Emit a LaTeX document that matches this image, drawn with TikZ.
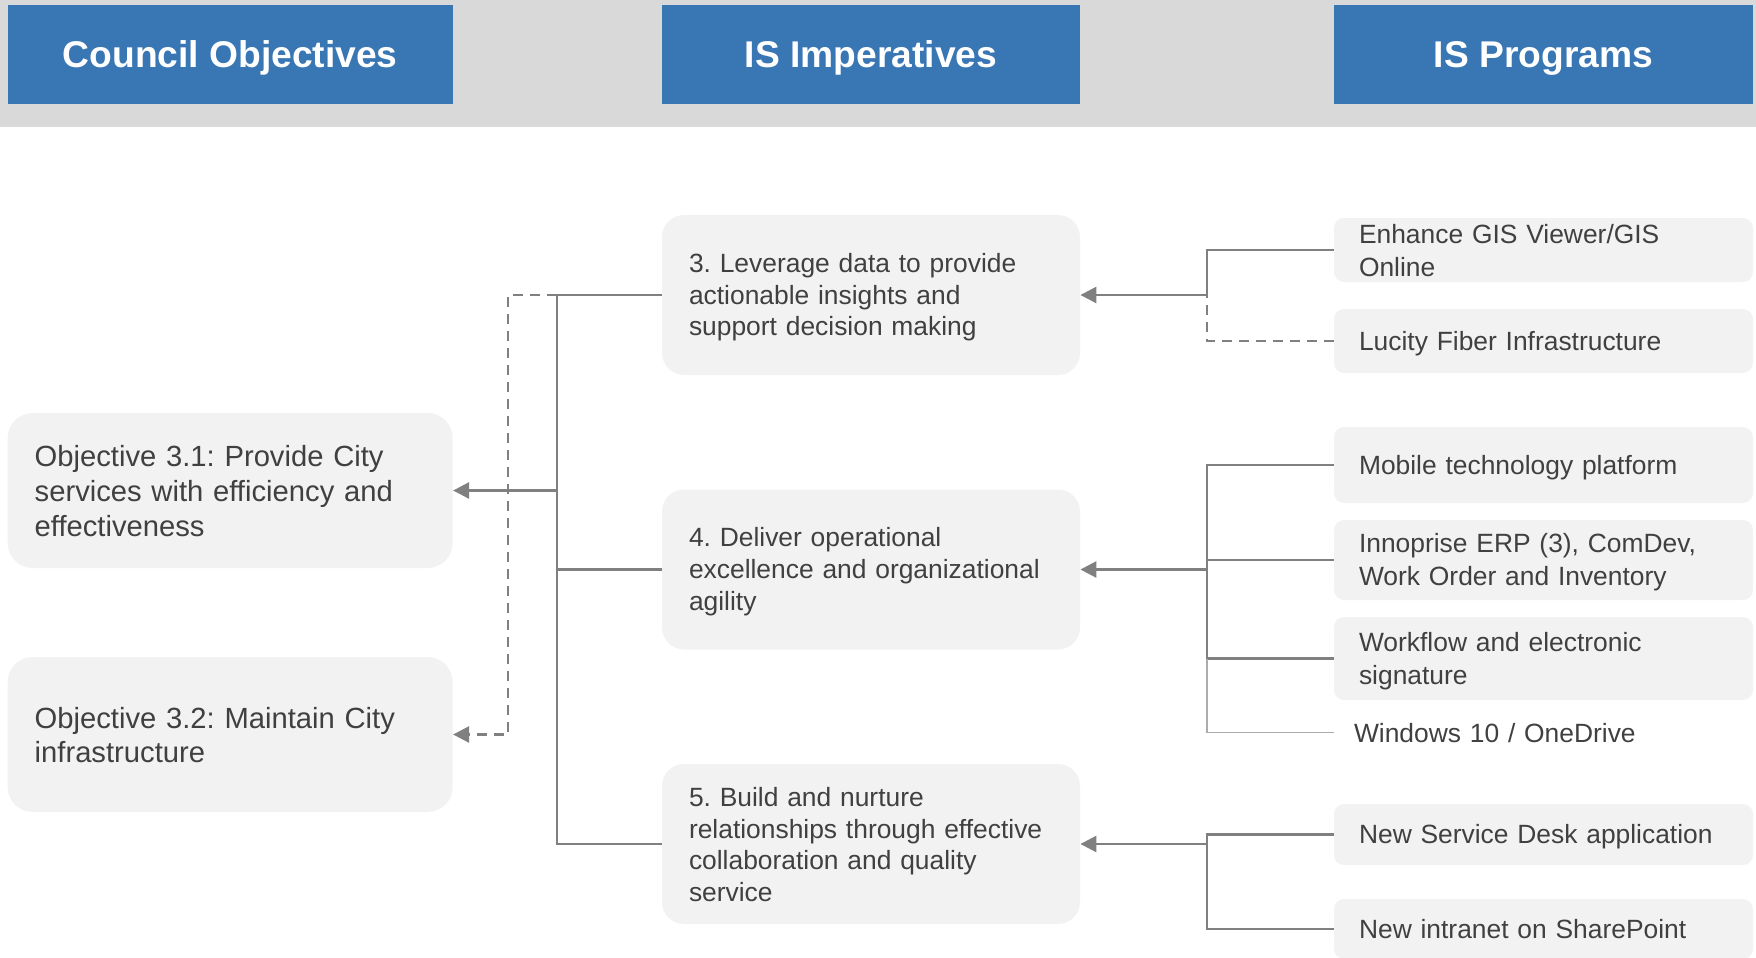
\documentclass[tikz,border=0pt]{standalone}
\usepackage{fontspec}
\setmainfont{Liberation Sans}
\usepackage{xcolor}
\usepackage{tikz}
\usetikzlibrary{arrows.meta}
\usetikzlibrary{calc, positioning}
\definecolor{headblue}{RGB}{56,118,180}
\definecolor{bandgray}{RGB}{217,217,217}
\definecolor{boxgray}{RGB}{242,242,242}
\definecolor{txtgray}{RGB}{64,64,64}
\definecolor{linegray}{RGB}{128,128,128}
% fixed first-line height and last-line depth, so text sits the same in every box
\tikzstyle{struts}=[execute at begin node={\rule{0pt}{0.9em}}, execute at end node={\rule[-0.15em]{0pt}{0pt}}]
\tikzstyle{header}=[rectangle, struts, fill=headblue, text=white, minimum height=49.5pt, inner sep=0pt, font=\bfseries\fontsize{18.6pt}{22pt}\selectfont]
\tikzstyle{objbox}=[rectangle, struts, rounded corners=12.5pt, fill=boxgray, align=left, text width=195.5pt, inner xsep=13.5pt, minimum height=77.5pt, font=\fontsize{14.6pt}{17.35pt}\selectfont]
\tikzstyle{impbox}=[rectangle, struts, rounded corners=11pt, fill=boxgray, align=left, text width=182pt, inner xsep=13.5pt, minimum height=80pt, font=\fontsize{13.2pt}{15.85pt}\selectfont]
\tikzstyle{progbox}=[rectangle, struts, rounded corners=5pt, fill=boxgray, align=left, text width=184.5pt, inner xsep=12.5pt, inner ysep=0.5pt, font=\fontsize{13.2pt}{16.6pt}\selectfont]
\tikzstyle{solidlink}=[draw=linegray, line width=1.35pt]
\tikzstyle{dashlink}=[draw=linegray, line width=1.25pt, dash pattern=on 5pt off 3.5pt]
\tikzstyle{thinlink}=[draw=linegray!65, line width=0.8pt]
\frenchspacing

\begin{document}
\begin{tikzpicture}[x=0.5pt, y=-0.5pt]
\tikzset{>={Triangle[length=8pt, width=8pt]}}

\tikzset{every node/.style={text=txtgray}}

\useasboundingbox (0,0) rectangle (1756,958);

% Header band
\fill[bandgray] (0,0) rectangle (1756,127);
\node[header, minimum width=222.5pt] (hobj) at (230.2,54.5) {Council Objectives};
\node[header, minimum width=209pt] (himp) at (871,54.5) {IS Imperatives};
\node[header, minimum width=209.5pt] (hprog) at (1543.5,54.5) {IS Programs};

% Council objectives
\node[objbox] (obj31) at (230.2,490.5) {Objective 3.1: Provide City\\services with efficiency and\\effectiveness};
\node[objbox] (obj32) at (230.2,734.5) {Objective 3.2: Maintain City\\infrastructure};

% IS imperatives
\node[impbox] (imp3) at (871,295) {3. Leverage data to provide\\actionable insights and\\support decision making};
\node[impbox] (imp4) at (871,569.5) {4. Deliver operational\\excellence and organizational\\agility};
\node[impbox] (imp5) at (871,844) {5. Build and nurture\\relationships through effective\\collaboration and quality\\service};

% IS programs
\node[progbox, minimum height=32pt] (gis) at (1543.5,250) {Enhance GIS Viewer/GIS\\Online};
\node[progbox, minimum height=32pt] (lucity) at (1543.5,341) {Lucity Fiber Infrastructure};
\node[progbox, minimum height=38pt] (mobile) at (1543.5,465) {Mobile technology platform};
\node[progbox, minimum height=40pt] (erp) at (1543.5,560) {Innoprise ERP (3), ComDev,\\Work Order and Inventory};
\node[progbox, minimum height=41.5pt] (wflow) at (1543.5,658.5) {Workflow and electronic\\signature};
\node[progbox, fill=none, inner xsep=10pt, text width=189.5pt] (win) at (1543.5,732.5) {Windows 10 / OneDrive};
\node[progbox, minimum height=30.5pt] (desk) at (1543.5,834.5) {New Service Desk application};
\node[progbox, minimum height=30pt] (intra) at (1543.5,929) {New intranet on SharePoint};

% bus points
\coordinate (bus3) at (1207,295);
\coordinate (bus4) at (1207,569.5);
\coordinate (bus5) at (1207,844);
\coordinate (busobj) at (557,490.5);
\coordinate (dashx) at (508,295);

% programs -> imperatives
\draw[solidlink] (gis.west) -| (bus3);
\draw[dashlink] (lucity.west) -| (bus3);
\draw[solidlink, ->] (bus3) to (imp3.east);

\draw[solidlink] (mobile.west) -| (bus4);
\draw[solidlink] (erp.west) -| (bus4);
\draw[solidlink] (wflow.west) -| (bus4);
\draw[thinlink] (win.west) -| (bus4 |- wflow.west);
\draw[solidlink, ->] (bus4) to (imp4.east);

\draw[solidlink] (desk.west) -| (bus5);
\draw[solidlink] (intra.west) -| (bus5);
\draw[solidlink, ->] (bus5) to (imp5.east);

% imperatives -> objectives
\draw[solidlink] (imp3.west) -| (busobj);
\draw[solidlink] (imp4.west) -| (busobj);
\draw[solidlink] (imp5.west) -| (busobj);
\draw[solidlink, ->] (busobj) to (obj31.east);
\draw[dashlink, ->] (imp3.west -| busobj) -- (dashx) |- (obj32.east);

\end{tikzpicture}
\end{document}
